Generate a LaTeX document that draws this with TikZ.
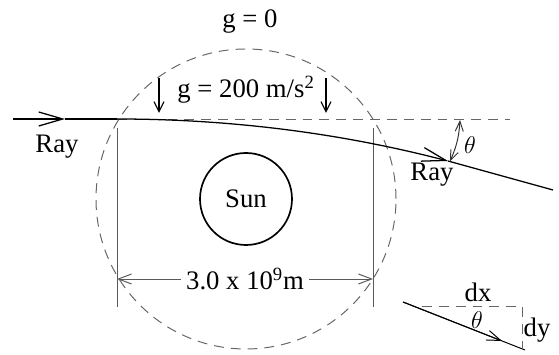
\documentclass[tikz,border=0pt]{standalone}
\usepackage{fontspec}
\setmainfont{Liberation Serif}
\usetikzlibrary{arrows.meta,positioning}
\tikzset{
  vonal/.style={draw=black!65,line width=0.7pt},
  szagg/.style={draw=black!60,line width=0.7pt,dash pattern=on 7pt off 5pt},
  sugar/.style={draw=black,line width=0.9pt},
  nagynyil/.style={-{Straight Barb[length=6mm,width=3.5mm]}},
  lenyil/.style={-{Straight Barb[length=2.5mm,width=2.5mm]}},
  ketnyil/.style={{Straight Barb[length=2.5mm,width=2mm]}-{Straight Barb[length=2.5mm,width=2mm]}},
  meret/.style={{Straight Barb[length=3.3mm,width=2.5mm]}-{Straight Barb[length=3.3mm,width=2.5mm]}},
  felirat/.style={font=\fontsize{19}{22}\selectfont,inner sep=1pt},
}
\begin{document}
\begin{tikzpicture}
  \useasboundingbox (-6.15,-3.9) rectangle (7.825,4.975);
  % gravitacios tartomany es a Nap
  \draw[szagg] (0,0) circle (3.75);
  \node[draw,circle,line width=1.2pt,minimum size=2.3cm,felirat] (nap) at (0,0) {Sun};
  \node[felirat] (g0) at (0.1,4.425) {g = 0};
  \node[felirat] (g200) at (0,2.725) {g = 200 m/s\textsuperscript{2}};
  \coordinate (lb1) at (-2.175,3.025); \coordinate (lb2) at (-2.175,2.15);
  \coordinate (lj1) at (2.0,3.025);    \coordinate (lj2) at (2.0,2.15);
  \draw[sugar,line width=0.8pt,lenyil] (lb1) -- (lb2);
  \draw[sugar,line width=0.8pt,lenyil] (lj1) -- (lj2);
  % hatarvonalak es meret
  \coordinate (bf) at (-3.225,1.775); \coordinate (ba) at (-3.225,-2.7);
  \coordinate (jf) at (3.175,1.775);  \coordinate (ja) at (3.175,-2.7);
  \draw[vonal] (bf) -- (ba);
  \draw[vonal] (jf) -- (ja);
  \coordinate (mb) at (-3.225,-2); \coordinate (mj) at (3.175,-2);
  \draw[vonal,meret] (mb) -- node[fill=white,felirat,inner sep=4pt] (hossz)
    {3.0 x 10\textsuperscript{9}m} (mj);
  % a sugar
  \coordinate (s0) at (-5.825,2.0); \coordinate (s1) at (-4.525,2.0);
  \coordinate (s2) at (-3.225,2.0); \coordinate (s4) at (5.05,0.95);
  \coordinate (s5) at (7.675,0.225);
  \draw[szagg] (s2) -- (6.6,2.0) coordinate (vizsz);
  \draw[sugar,nagynyil] (s0) -- (s1);
  \draw[sugar] (s1) -- (s2);
  \draw[sugar,nagynyil] (s2) .. controls (-0.4,2.0) and (2.358,1.65) .. (s4);
  \draw[sugar] (s4) -- (s5);
  \node[felirat] (ray1) at (-4.725,1.3) {Ray};
  \node[felirat] (ray2) at (4.65,0.6) {Ray};
  \coordinate (tf) at (5.35,1.975); \coordinate (ta) at (5.1,0.94);
  \draw[vonal,black!80,ketnyil] (tf) to[bend left=10] (ta);
  \node[felirat] (th1) at (5.6,1.35) {$\theta$};
  % dx, dy haromszog
  \coordinate (k0) at (3.925,-2.575); \coordinate (k1) at (6.4,-3.55);
  \coordinate (k2) at (6.975,-3.775);
  \draw[sugar,line width=0.7pt] (k0) -- (k2);
  \draw[sugar,line width=0.7pt,-{Straight Barb[length=3.5mm,width=2.5mm]}] (k0) -- (k1);
  \draw[szagg] (4.4,-2.675) -- (6.9,-2.675) -- (6.9,-3.725);
  \node[felirat] (dx) at (5.8,-2.325) {dx};
  \node[felirat] (th2) at (5.775,-3.025) {$\theta$};
  \node[felirat] (dy) at (7.275,-3.275) {dy};
\end{tikzpicture}
\end{document}
